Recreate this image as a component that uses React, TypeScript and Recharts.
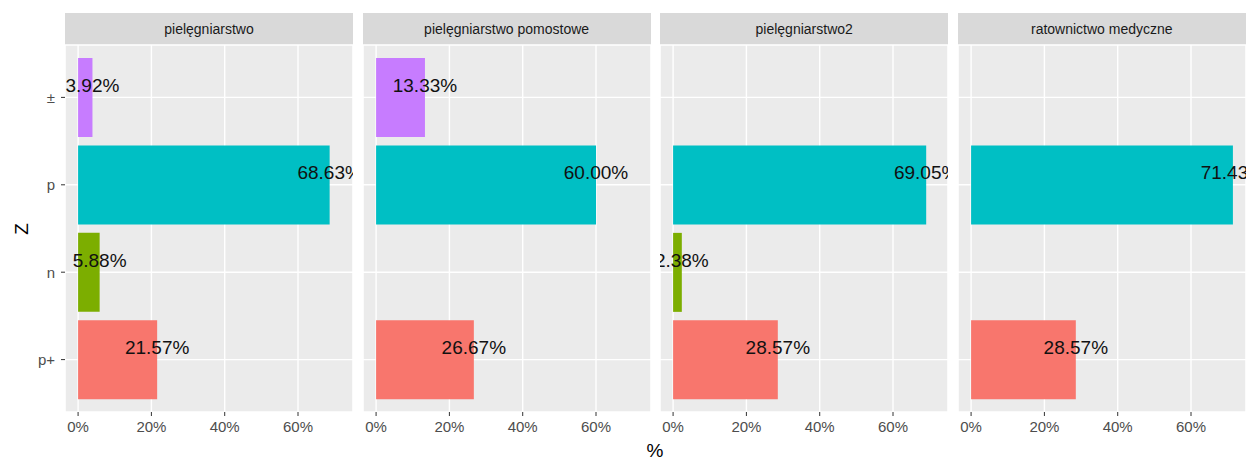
import { BarChart, Bar, XAxis, YAxis, CartesianGrid, Cell, LabelList, usePlotArea } from "recharts";

const categories = ["±", "p", "n", "p+"];
const facetNames = ["pielęgniarstwo", "pielęgniarstwo pomostowe", "pielęgniarstwo2", "ratownictwo medyczne"];
const pielegniarstwo = [3.92, 68.63, 5.88, 21.57];
const pomostowe = [13.33, 60.0, null, 26.67];
const pielegniarstwo2 = [null, 69.05, 2.38, 28.57];
const ratownictwo = [null, 71.43, null, 28.57];
const facetValues = [pielegniarstwo, pomostowe, pielegniarstwo2, ratownictwo];
const categoryColors = ["#C77CFF", "#00BFC4", "#7CAE00", "#F8766D"];
const xTicks = [0, 20, 40, 60];
const xMinorTicks = [10, 30, 50, 70];
const xDomain = [-3.5715, 75.0015];

const FONT = '"Liberation Sans", Arial, sans-serif';
const PANEL_W = 288;
const PANEL_LEFTS = [65, 362.6, 660.2, 957.8];
const Y_AXIS_W = 65;

function PanelClip({ id }: { id: string }) {
  const area = usePlotArea();
  if (!area) return null;
  return (
    <defs>
      <clipPath id={id}>
        <rect x={area.x} y={area.y} width={area.width} height={area.height} />
      </clipPath>
    </defs>
  );
}

function Facet({ index }: { index: number }) {
  const first = index === 0;
  const clipId = `facet-clip-${index}`;
  const data = categories.map((c, i) => ({ cat: c, value: facetValues[index][i] }));
  const width = first ? PANEL_W + Y_AXIS_W : PANEL_W;
  const left = first ? 0 : PANEL_LEFTS[index];

  const renderLabel = (props: any) => {
    const { x, y, width: w, height: h, value } = props;
    if (value == null) return null;
    return (
      <text
        x={Number(x) + Number(w)}
        y={Number(y) + Number(h) / 2}
        dy={-12}
        textAnchor="middle"
        dominantBaseline="central"
        clipPath={`url(#${clipId})`}
        fontSize={19}
        fontFamily={FONT}
        fill="#111111"
      >
        {Number(value).toFixed(2)}%
      </text>
    );
  };

  return (
    <div style={{ position: "absolute", left, top: 0 }}>
      <BarChart
        width={width}
        height={457}
        data={data}
        layout="vertical"
        margin={{ top: 45, right: 0, bottom: 0, left: 0 }}
        barCategoryGap="5%"
      >
        <PanelClip id={clipId} />
        <CartesianGrid
          xAxisId="minor"
          fill="#EBEBEB"
          stroke="#FFFFFF"
          strokeWidth={0.7}
          horizontal={false}
        />
        <CartesianGrid stroke="#FFFFFF" strokeWidth={1.4} />
        <XAxis
          type="number"
          domain={xDomain}
          ticks={xTicks}
          interval={0}
          tickFormatter={(v) => `${v}%`}
          axisLine={false}
          tickLine={{ stroke: "#333333" }}
          tickSize={4}
          tickMargin={5}
          height={45}
          tick={{ fontSize: 15, fill: "#4D4D4D", fontFamily: FONT }}
        />
        <XAxis xAxisId="minor" type="number" domain={xDomain} ticks={xMinorTicks} interval={0} hide />
        <YAxis
          type="category"
          dataKey="cat"
          hide={!first}
          width={first ? Y_AXIS_W : 0}
          padding={{ top: 8.7, bottom: 8.7 }}
          axisLine={false}
          tickLine={{ stroke: "#333333" }}
          tickSize={4}
          tickMargin={6}
          interval={0}
          tick={{ fontSize: 15, fill: "#4D4D4D", fontFamily: FONT }}
        />
        <Bar dataKey="value" isAnimationActive={false}>
          {data.map((d, i) => (
            <Cell key={d.cat} fill={categoryColors[i]} />
          ))}
          <LabelList dataKey="value" content={renderLabel} />
        </Bar>
      </BarChart>
    </div>
  );
}

export default function App() {
  return (
    <div
      style={{
        position: "absolute",
        left: 0,
        top: 0,
        width: 1251,
        height: 457,
        background: "#FFFFFF",
        overflow: "hidden",
        fontFamily: FONT,
      }}
    >
      {facetNames.map((name, i) => (
        <div
          key={name}
          style={{
            position: "absolute",
            left: PANEL_LEFTS[i],
            top: 13,
            width: PANEL_W,
            height: 32,
            background: "#D9D9D9",
            color: "#1A1A1A",
            fontSize: 14,
            lineHeight: "32px",
            textAlign: "center",
          }}
        >
          {name}
        </div>
      ))}
      {facetNames.map((name, i) => (
        <Facet key={name} index={i} />
      ))}
      <div
        style={{
          position: "absolute",
          left: 12,
          top: 218,
          width: 20,
          height: 22,
          fontSize: 19,
          lineHeight: "22px",
          textAlign: "center",
          color: "#000000",
          transform: "rotate(-90deg)",
        }}
      >
        Z
      </div>
      <div
        style={{
          position: "absolute",
          left: 635,
          top: 440,
          width: 40,
          fontSize: 19,
          lineHeight: "22px",
          textAlign: "center",
          color: "#000000",
        }}
      >
        %
      </div>
    </div>
  );
}
